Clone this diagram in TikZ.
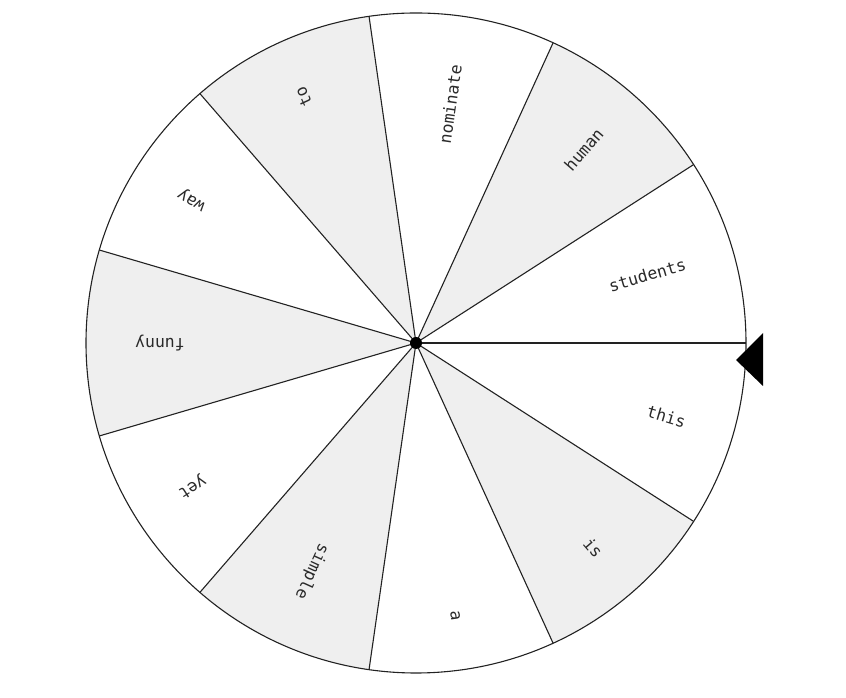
\documentclass[tikz,border=0pt]{standalone}
\usepackage{fontspec}
\setmonofont{DejaVu Sans Mono}
\definecolor{segGray}{HTML}{EFEFEF}
\definecolor{lineCol}{HTML}{222222}
\definecolor{txtCol}{HTML}{2A2A2A}
\tikzset{
  segline/.style={draw=lineCol, line width=1.1pt},
  rim/.style={draw=lineCol, line width=1.1pt},
  lbl/.style={font=\ttfamily\fontsize{16.5}{16.5}\selectfont, text=txtCol, anchor=east, inner sep=0pt},
  hub/.style={circle, fill=black, inner sep=0pt, minimum size=12pt},
}
\begin{document}
\begin{tikzpicture}[x=1pt,y=1pt]
\useasboundingbox (0,0) rectangle (846,698);
\coordinate (c) at (416,355);
\foreach \w [count=\i from 0] in {this,is,a,simple,yet,funny,way,to,nominate,human,students} {
  \pgfmathsetmacro\sa{-\i*360/11}
  \pgfmathsetmacro\sb{-(\i+1)*360/11}
  \pgfmathsetmacro\sm{-(\i+0.5)*360/11}
  \pgfmathtruncatemacro\odd{mod(\i,2)}
  \ifnum\odd=1
    \fill[segGray] (c) -- ++(\sa:330) arc[start angle=\sa, end angle=\sb, radius=330] -- cycle;
  \fi
  \node[lbl, rotate=\sm] (w\i) at ([shift={(\sm:281)}]c) {\w};
}
\foreach \i in {0,...,10} {
  \draw[segline] (c) -- ++(-\i*360/11:330);
}
\draw[rim] (c) circle[radius=330];
\node[hub] (hub) at (c) {};
\coordinate (ptip) at (736,338);
\coordinate (ptop) at (763,365);
\coordinate (pbot) at (763,312);
\fill[black] (ptip) -- (ptop) -- (pbot) -- cycle;
\end{tikzpicture}
\end{document}
